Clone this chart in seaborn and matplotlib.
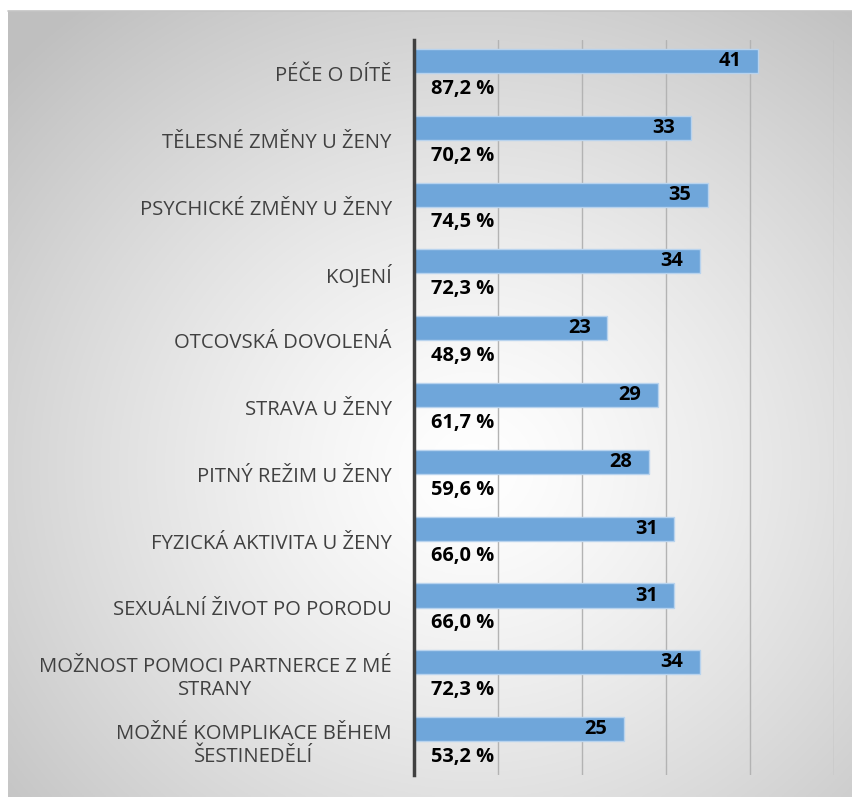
import numpy as np
import pandas as pd
import matplotlib
matplotlib.use("Agg")
import matplotlib.pyplot as plt
import seaborn as sns

categories = [
    "PÉČE O DÍTĚ",
    "TĚLESNÉ ZMĚNY U ŽENY",
    "PSYCHICKÉ ZMĚNY U ŽENY",
    "KOJENÍ",
    "OTCOVSKÁ DOVOLENÁ",
    "STRAVA U ŽENY",
    "PITNÝ REŽIM U ŽENY",
    "FYZICKÁ AKTIVITA U ŽENY",
    "SEXUÁLNÍ ŽIVOT PO PORODU",
    "MOŽNOST POMOCI PARTNERCE Z MÉ\nSTRANY",
    "MOŽNÉ KOMPLIKACE BĚHEM\nŠESTINEDĚLÍ",
]
counts = [41, 33, 35, 34, 23, 29, 28, 31, 31, 34, 25]
percent_labels = ["87,2 %", "70,2 %", "74,5 %", "72,3 %", "48,9 %", "61,7 %",
                  "59,6 %", "66,0 %", "66,0 %", "72,3 %", "53,2 %"]

df = pd.DataFrame({"topic": categories, "count": counts})

sns.set_theme(style="white")
plt.rcParams["font.family"] = ["Open Sans", "DejaVu Sans"]

W, H = 853, 798
fig = plt.figure(figsize=(W / 100, H / 100), dpi=100)
fig.patch.set_facecolor("white")

# radial gradient panel behind the chart
bg = fig.add_axes([8 / W, 1 - 797 / H, (W - 8) / W, (797 - 11) / H], zorder=-5)
ny, nx = 400, 430
yy, xx = np.mgrid[0:ny, 0:nx]
cx, cy = nx * 0.55, ny * 0.58
r = np.sqrt(((xx - cx) / nx) ** 2 + ((yy - cy) / ny) ** 2) / 0.75
r = np.clip(r, 0, 1)
shade = 1.0 - 0.25 * r ** 1.3
bg.imshow(np.dstack([shade] * 3), aspect="auto", extent=(0, 1, 0, 1), origin="upper")
bg.set_xlim(0, 1)
bg.set_ylim(0, 1)
bg.axis("off")
fig.add_artist(plt.Line2D([8 / W, 1], [1 - 11 / H, 1 - 11 / H],
                          color="#c4c4c4", lw=1.2, transform=fig.transFigure))

ax = fig.add_axes([414 / W, 1 - 775 / H, 420 / W, 735 / H])
ax.set_facecolor("none")

shift = 0.186
sns.barplot(data=df, x="count", y="topic", orient="h", ax=ax, width=0.36,
            color="#6fa6da", saturation=1, edgecolor="#b8d3ee", linewidth=1,
            zorder=3)

ax.set_xlim(0, 50)
ax.set_ylim(len(categories) - 0.5 + shift, -0.5 + shift)
ax.set_xticks([10, 20, 30, 40, 50])
ax.set_xticklabels([])
ax.grid(axis="x", color="#b3b3b3", lw=1, zorder=0)
ax.grid(axis="y", visible=False)
ax.set_yticks(np.arange(len(categories)) + shift)
ax.set_yticklabels(categories, fontsize=14.6, color="#404040")
for lbl in ax.get_yticklabels():
    lbl.set_multialignment("center")
ax.tick_params(axis="y", length=0, pad=16)
ax.tick_params(axis="x", length=0)
ax.set_xlabel("")
ax.set_ylabel("")
for s in ["top", "right", "bottom"]:
    ax.spines[s].set_visible(False)
ax.spines["left"].set_color("#404040")
ax.spines["left"].set_linewidth(2.5)
ax.spines["left"].set_zorder(5)

for i, (v, p) in enumerate(zip(counts, percent_labels)):
    ax.annotate(str(v), xy=(v, i), xytext=(-12, 0), textcoords="offset points",
                ha="right", va="center", fontsize=14.4, fontweight="bold",
                color="black", zorder=6)
    ax.annotate(p, xy=(0, i + shift), xytext=(12, -11), textcoords="offset points",
                ha="left", va="center", fontsize=14.4, fontweight="bold",
                color="black", zorder=6)

fig.savefig("out.png", dpi=100)
